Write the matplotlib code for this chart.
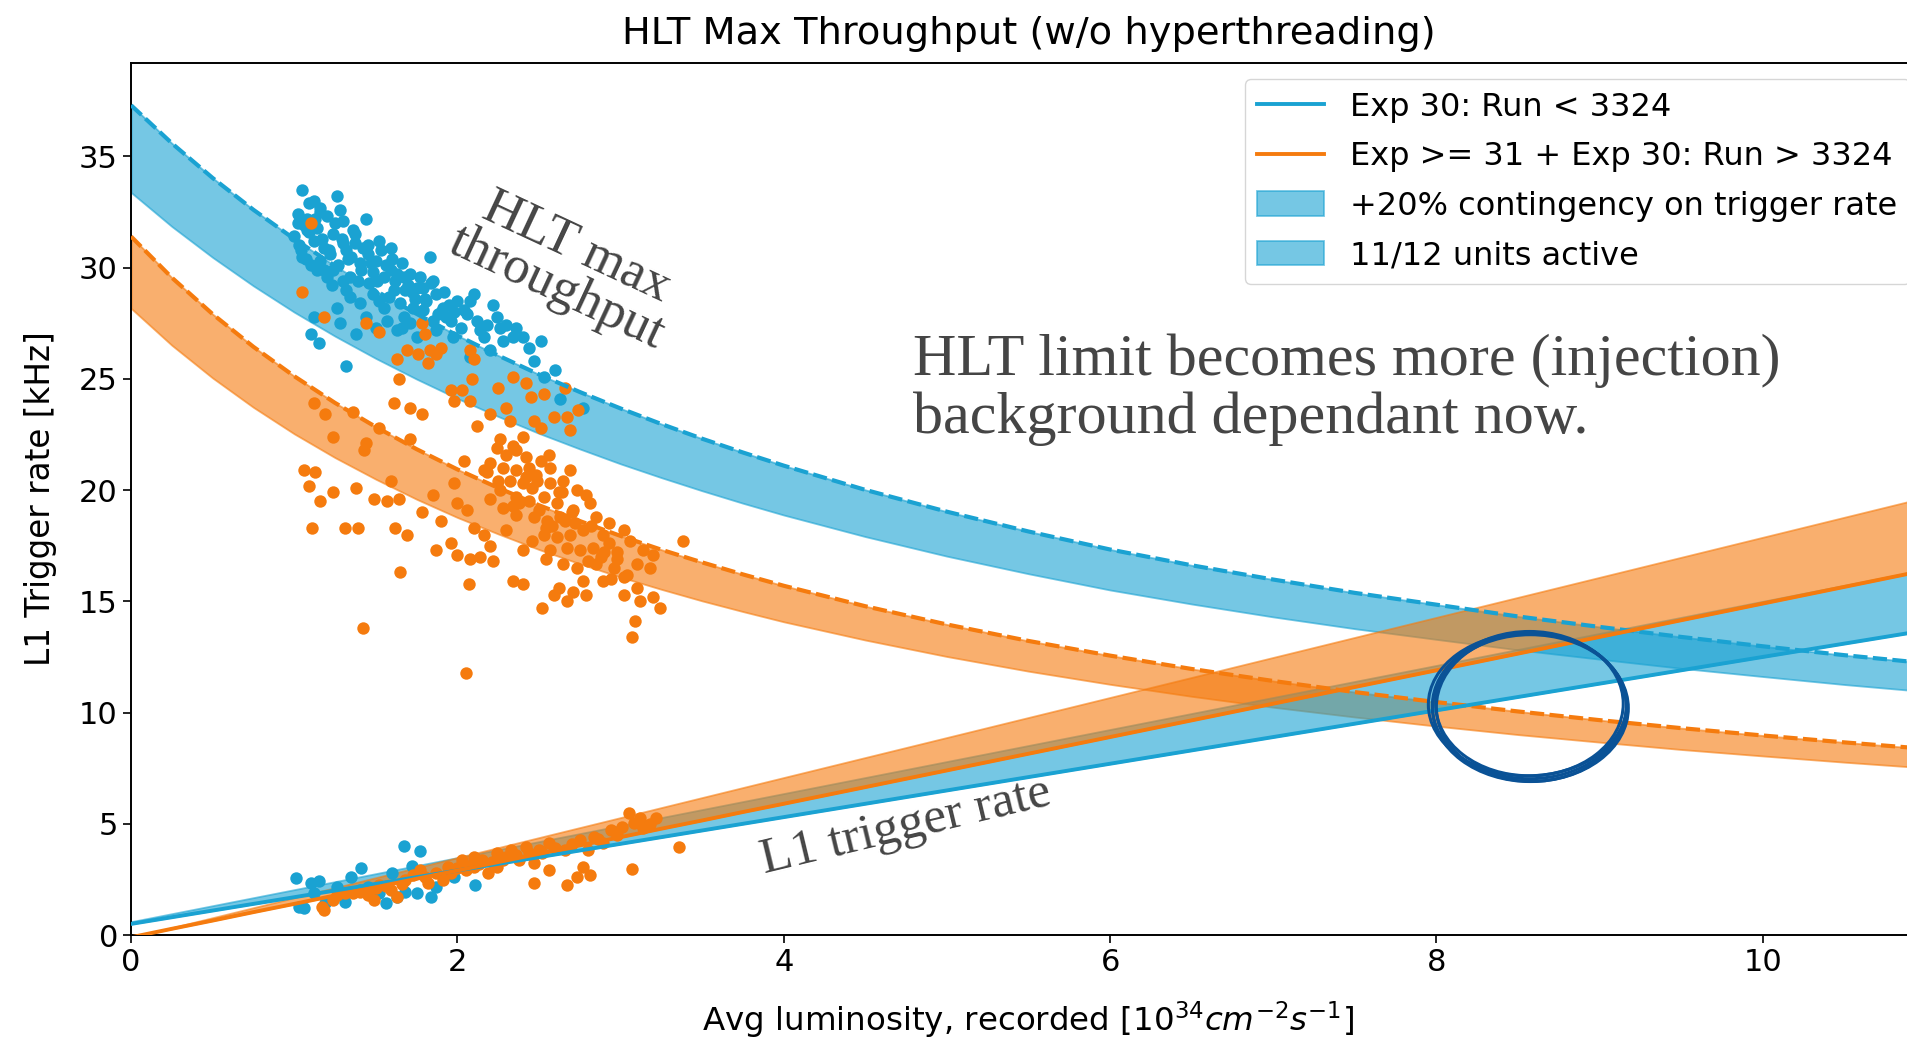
import matplotlib
matplotlib.use("Agg")
import matplotlib.pyplot as plt
from matplotlib.patches import Ellipse, Patch

# ---------------- data ----------------
lum = [0.0, 0.25, 0.5, 0.75, 1.0, 1.25, 1.5, 1.75, 2.0, 2.25, 2.5, 2.75, 3.0, 3.25,
       3.5, 3.75, 4.0, 4.5, 5.0, 5.5, 6.0, 6.5, 7.0, 7.5, 8.0, 8.5, 9.0, 9.5, 10.0,
       10.5, 11.0]

# HLT max throughput, Exp 30 Run < 3324 (blue): all units (dashed) and 11/12 units
hlt_blue_full = [37.30, 35.59, 34.03, 32.60, 31.29, 30.08, 28.96, 27.92, 26.95, 26.05,
                 25.20, 24.41, 23.67, 22.97, 22.31, 21.69, 21.10, 20.01, 19.03, 18.14,
                 17.33, 16.62, 15.98, 15.38, 14.85, 14.32, 13.85, 13.40, 12.98, 12.58,
                 12.22]
hlt_blue_part = [33.38, 31.85, 30.46, 29.18, 28.00, 26.92, 25.92, 24.99, 24.12, 23.31,
                 22.55, 21.85, 21.18, 20.56, 19.97, 19.41, 18.88, 17.91, 17.03, 16.24,
                 15.51, 14.88, 14.30, 13.77, 13.29, 12.82, 12.40, 11.99, 11.62, 11.26,
                 10.94]
# HLT max throughput, Exp >= 31 (orange)
hlt_orange_full = [31.40, 29.55, 27.91, 26.44, 25.12, 23.92, 22.84, 21.84, 20.93, 20.10,
                   19.32, 18.61, 17.94, 17.32, 16.75, 16.21, 15.70, 14.78, 13.96, 13.22,
                   12.56, 11.96, 11.42, 10.92, 10.47, 10.05, 9.66, 9.30, 8.97, 8.66, 8.37]
hlt_orange_part = [28.17, 26.51, 25.04, 23.72, 22.53, 21.46, 20.49, 19.59, 18.77, 18.03,
                   17.33, 16.69, 16.09, 15.54, 15.02, 14.54, 14.08, 13.26, 12.52, 11.86,
                   11.27, 10.73, 10.24, 9.80, 9.39, 9.01, 8.67, 8.34, 8.05, 7.77, 7.51]
# L1 trigger rate (solid) and +20% contingency
l1_blue = [0.50, 0.80, 1.10, 1.40, 1.70, 2.00, 2.30, 2.60, 2.90, 3.20, 3.50, 3.80, 4.10,
           4.40, 4.70, 5.00, 5.30, 5.90, 6.50, 7.10, 7.70, 8.30, 8.90, 9.50, 10.10, 10.70,
           11.30, 11.90, 12.50, 13.10, 13.70]
l1_blue_hi = [0.60, 0.96, 1.32, 1.68, 2.04, 2.40, 2.76, 3.12, 3.48, 3.84, 4.20, 4.56,
              4.92, 5.28, 5.64, 6.00, 6.36, 7.08, 7.80, 8.52, 9.24, 9.96, 10.68, 11.40,
              12.12, 12.84, 13.56, 14.28, 15.00, 15.72, 16.44]
l1_orange = [-0.10, 0.28, 0.65, 1.03, 1.40, 1.78, 2.15, 2.53, 2.90, 3.28, 3.65, 4.03,
             4.40, 4.78, 5.15, 5.53, 5.90, 6.65, 7.40, 8.15, 8.90, 9.65, 10.40, 11.15,
             11.90, 12.65, 13.40, 14.15, 14.90, 15.65, 16.40]
l1_orange_hi = [-0.12, 0.33, 0.78, 1.23, 1.68, 2.13, 2.58, 3.03, 3.48, 3.93, 4.38, 4.83,
                5.28, 5.73, 6.18, 6.63, 7.08, 7.98, 8.88, 9.78, 10.68, 11.58, 12.48, 13.38,
                14.28, 15.18, 16.08, 16.98, 17.88, 18.78, 19.68]

# measured HLT throughput points
hlt_pts_blue_x = [1.05, 1.09, 1.02, 1.26, 1.44, 1.14, 1.00, 1.24, 1.36, 1.04, 1.18, 1.32,
                  1.40, 1.24, 1.50, 1.59, 1.71, 1.83, 1.46, 1.61, 1.75, 1.87, 2.00, 2.08,
                  1.32, 1.26, 1.40, 1.55, 1.67, 1.79, 1.91, 2.04, 2.12, 2.24, 1.12, 1.28,
                  1.50, 1.63, 1.87, 1.97, 2.16, 2.28, 2.20, 2.51, 1.10, 1.15, 1.32, 1.38,
                  1.71, 2.08, 2.47, 2.53, 2.63, 2.77, 1.59, 1.67, 1.53, 1.20, 1.34, 1.08,
                  1.20, 1.02, 1.79, 1.93, 1.75, 1.44, 1.06, 1.12, 1.16, 1.22, 1.30, 1.35,
                  1.42, 1.48, 1.55, 1.62, 1.68, 1.74, 1.81, 1.90, 1.96, 2.02, 1.10, 1.16,
                  1.28, 1.37, 1.45, 1.52, 1.60, 1.66, 1.72, 1.84, 1.98, 2.14, 2.30, 2.40,
                  2.60, 1.05, 1.14, 1.30,
                  1.03, 1.07, 1.09, 1.13, 1.17, 1.21, 1.25, 1.29, 1.33, 1.37, 1.41, 1.45,
                  1.47, 1.51, 1.56, 1.58, 1.63, 1.65, 1.70, 1.73, 1.77, 1.80, 1.85, 1.88,
                  1.92, 1.95, 2.06, 2.10, 2.18, 2.22, 2.26, 2.34, 2.36, 2.44, 1.18, 1.23,
                  1.27, 1.34, 1.39, 1.48, 1.52, 1.57, 1.66, 1.85, 1.12, 1.16, 1.08, 1.30]
hlt_pts_blue_y = [33.5, 32.9, 32.4, 33.2, 32.2, 31.8, 31.4, 31.5, 31.7, 30.8, 30.9, 30.8,
                  30.2, 29.9, 30.3, 29.9, 29.7, 30.5, 29.3, 29.0, 29.1, 28.8, 28.5, 28.5,
                  29.0, 28.2, 28.4, 28.2, 27.8, 28.1, 28.2, 28.1, 27.6, 27.8, 27.8, 27.5,
                  27.3, 27.2, 27.2, 26.9, 26.9, 26.7, 26.3, 26.7, 27.0, 26.6, 25.6, 27.0,
                  27.5, 26.0, 25.8, 25.1, 24.1, 23.7, 30.9, 29.6, 30.8, 29.6, 29.6, 31.7,
                  32.3, 32.0, 29.1, 27.8, 26.9, 27.8, 31.9, 31.2, 30.3, 30.6, 31.1, 30.5,
                  30.9, 29.8, 29.6, 29.4, 29.0, 28.6, 28.5, 28.0, 27.6, 27.3, 30.1, 32.5,
                  32.6, 31.5, 30.6, 31.2, 30.4, 30.2, 28.9, 29.3, 28.0, 27.2, 27.4, 26.9,
                  25.4, 30.5, 29.9, 29.4,
                  31.0, 30.4, 31.6, 32.2, 31.3, 30.8, 32.0, 31.3, 30.4, 31.1, 29.9, 31.0,
                  30.2, 29.4, 30.1, 28.7, 29.7, 28.4, 29.2, 28.2, 29.6, 28.6, 29.4, 27.9,
                  28.9, 28.3, 27.9, 28.8, 27.4, 28.3, 27.3, 26.9, 27.3, 26.4, 29.9, 29.2,
                  30.1, 28.7, 29.4, 28.8, 28.5, 27.6, 27.3, 27.6, 33.0, 32.7, 32.2, 32.1]

hlt_pts_orange_x = [1.10, 1.05, 1.18, 1.44, 1.52, 1.78, 1.80, 1.63, 1.69, 1.76, 1.83, 1.87,
                    1.90, 1.82, 2.08, 2.10, 1.64, 1.96, 2.03, 1.98, 2.08, 2.09, 2.20, 2.25,
                    2.30, 2.34, 2.42, 2.45, 2.53, 2.47, 2.51, 2.59, 2.66, 2.67, 2.69, 2.74,
                    2.12, 2.32, 2.40, 1.12, 1.19, 1.24, 1.36, 1.44, 1.43, 1.52, 1.61, 1.71,
                    1.78, 1.71, 1.06, 1.13, 1.09, 1.16, 1.24, 1.38, 1.49, 1.57, 1.64, 1.11,
                    1.31, 1.39, 1.62, 1.69, 1.78, 1.85, 1.90, 1.98, 2.00, 2.06, 2.10, 2.16,
                    1.87, 1.96, 2.00, 2.08, 2.22, 2.14, 1.65, 2.07, 2.20, 1.42, 1.59, 2.04,
                    2.16, 2.25, 2.24, 2.30, 2.36, 2.42, 2.28, 2.36, 2.44, 2.51, 2.57, 2.32,
                    2.40, 2.49, 2.57, 2.65, 2.69, 2.73, 2.79, 2.36, 2.44, 2.53, 2.61, 2.28,
                    2.36, 2.47, 2.55, 2.63, 2.71, 2.85, 2.53, 2.61, 2.69, 2.77, 2.89, 3.02,
                    2.57, 2.67, 2.75, 2.83, 2.93, 3.06, 3.14, 3.20, 2.65, 2.73, 2.85, 2.96,
                    3.04, 3.10, 3.18, 3.38, 2.77, 2.89, 3.02, 2.59, 2.67, 2.79, 3.02, 3.12,
                    3.20, 3.24, 2.52, 3.09, 3.07, 2.34, 2.40, 2.81, 2.93, 2.05, 2.20, 2.26,
                    2.34, 2.48, 2.56, 2.62, 2.70, 2.82, 2.90, 2.98, 2.38, 2.46, 2.54, 2.66,
                    2.26, 2.34, 2.42, 2.50, 2.58, 2.64, 2.72, 2.46, 2.54, 2.80, 2.88, 2.94,
                    2.98, 3.10, 2.30, 2.20, 2.18, 2.40, 2.62, 2.71]
hlt_pts_orange_y = [32.0, 28.9, 27.8, 27.5, 27.1, 27.5, 27.0, 25.9, 26.3, 26.1, 26.3, 26.1,
                    26.4, 25.7, 26.3, 25.9, 25.0, 24.5, 24.5, 24.0, 24.0, 25.0, 23.4, 24.6,
                    23.7, 25.1, 24.8, 24.2, 24.3, 23.1, 22.8, 23.3, 24.6, 23.3, 22.7, 23.6,
                    22.9, 23.1, 22.4, 23.9, 23.4, 22.4, 23.5, 22.1, 21.8, 22.8, 23.9, 23.7,
                    23.4, 22.3, 20.9, 20.8, 20.2, 19.5, 19.9, 20.1, 19.6, 19.5, 19.6, 18.3,
                    18.3, 18.3, 18.3, 18.0, 19.0, 19.8, 18.6, 20.3, 19.4, 19.1, 18.3, 18.0,
                    17.3, 17.6, 17.1, 16.9, 16.8, 17.0, 16.3, 15.8, 17.5, 13.8, 20.4, 21.3,
                    20.9, 20.4, 21.9, 21.6, 21.8, 21.5, 21.0, 20.9, 21.0, 21.3, 21.0, 20.4,
                    20.3, 20.4, 20.3, 20.4, 20.9, 20.0, 19.8, 19.7, 19.5, 19.7, 19.4, 19.2,
                    18.9, 18.8, 18.6, 18.8, 19.1, 18.8, 18.0, 17.9, 18.0, 18.2, 18.0, 18.2,
                    17.3, 17.4, 17.3, 17.4, 17.6, 17.7, 17.3, 17.1, 16.7, 16.5, 16.7, 16.5,
                    16.2, 16.7, 16.5, 17.7, 15.9, 15.9, 16.1, 15.3, 15.0, 15.3, 15.3, 15.0,
                    15.2, 14.7, 14.7, 14.1, 13.4, 15.9, 15.8, 19.4, 18.5, 11.8, 21.2, 22.3,
                    22.0, 20.7, 21.6, 19.9, 19.0, 18.4, 17.2, 16.9, 19.4, 20.1, 18.3, 18.6,
                    20.0, 19.3, 20.6, 19.1, 18.4, 19.9, 18.5, 17.7, 16.9, 16.8, 17.0, 16.0,
                    17.2, 15.6, 18.2, 19.6, 20.8, 17.3, 15.6, 15.4]

# measured L1 trigger rate points
l1_pts_blue_x = [1.01, 1.10, 1.15, 1.26, 1.35, 1.41, 1.67, 1.77, 1.72, 1.60, 1.03, 1.06,
                 1.19, 1.31, 1.56, 1.63, 1.75, 1.84, 1.87, 1.68, 1.52, 1.45, 1.98, 2.11,
                 1.12, 1.40]
l1_pts_blue_y = [2.55, 2.32, 2.44, 2.17, 2.62, 3.00, 4.00, 3.79, 3.10, 2.77, 1.27, 1.20,
                 1.42, 1.50, 1.42, 1.72, 1.87, 1.72, 2.17, 1.95, 1.87, 2.17, 2.62, 2.25,
                 1.87, 2.02]
l1_pts_orange_x = [1.18, 1.17, 1.24, 1.31, 1.40, 1.45, 1.52, 1.63, 1.68, 1.73, 1.77, 1.87,
                   1.94, 2.03, 2.05, 2.10, 2.15, 2.19, 2.24, 2.28, 2.33, 2.38, 2.42, 2.47,
                   2.47, 2.52, 2.56, 2.56, 2.66, 2.67, 2.73, 2.77, 2.81, 2.75, 2.84, 2.94,
                   3.01, 3.05, 3.08, 3.12, 3.22, 3.07, 3.36, 2.89, 2.80, 2.24, 2.10, 1.91,
                   1.82, 1.59, 1.49,
                   1.36, 1.56, 1.66, 1.80, 1.96, 2.00, 2.07, 2.13, 2.21, 2.30, 2.36, 2.44,
                   2.50, 2.60, 2.70, 2.86, 2.98, 3.14, 3.18, 1.26, 1.46, 1.50]
l1_pts_orange_y = [1.12, 1.27, 1.57, 1.87, 1.95, 1.80, 2.25, 1.72, 2.47, 2.70, 2.92, 2.77,
                   3.07, 3.37, 2.92, 3.52, 3.37, 2.77, 3.67, 3.37, 3.82, 3.37, 3.97, 3.22,
                   2.32, 3.67, 4.12, 2.92, 3.82, 2.25, 2.62, 3.07, 2.70, 4.27, 4.42, 4.72,
                   4.87, 5.47, 5.02, 5.24, 5.24, 2.95, 3.94, 4.12, 3.82, 3.07, 3.07, 2.47,
                   2.32, 2.02, 1.57,
                   1.90, 2.20, 2.30, 2.60, 2.80, 3.00, 3.10, 3.20, 3.30, 3.50, 3.60, 3.70,
                   3.80, 3.90, 4.10, 4.30, 4.50, 4.80, 5.00, 1.80, 2.00, 2.10]

x_ticks = [0, 2, 4, 6, 8, 10]
y_ticks = [0, 5, 10, 15, 20, 25, 30, 35]

BLUE = "#1aa2d2"
ORANGE = "#f57b0e"
TEXT_GREY = "#454545"
CIRCLE = "#0a5296"

# ---------------- figure ----------------
plt.rcParams["font.family"] = ["DejaVu Sans"]
plt.rcParams["font.size"] = 22
fig = plt.figure(figsize=(19.08, 10.41), dpi=100)
ax = fig.add_axes([0.0687, 0.1018, 0.9407, 0.8377])

# bands
ax.fill_between(lum, hlt_blue_part, hlt_blue_full, color=BLUE, alpha=0.6, lw=1.3, zorder=1)
ax.fill_between(lum, hlt_orange_part, hlt_orange_full, color=ORANGE, alpha=0.6, lw=1.3, zorder=1)
ax.fill_between(lum, l1_blue, l1_blue_hi, color=BLUE, alpha=0.6, lw=1.3, zorder=1)
ax.fill_between(lum, l1_orange, l1_orange_hi, color=ORANGE, alpha=0.6, lw=1.3, zorder=1)

# scatter points
ms = 80
ax.scatter(hlt_pts_blue_x, hlt_pts_blue_y, s=ms, color=BLUE, lw=0, zorder=2)
ax.scatter(hlt_pts_orange_x, hlt_pts_orange_y, s=ms, color=ORANGE, lw=0, zorder=2)
ax.scatter(l1_pts_blue_x, l1_pts_blue_y, s=ms, color=BLUE, lw=0, zorder=2)
ax.scatter(l1_pts_orange_x, l1_pts_orange_y, s=ms, color=ORANGE, lw=0, zorder=2)

# lines
ax.plot(lum, hlt_blue_full, color=BLUE, lw=3.0, ls=(0, (3.4, 1.3)), zorder=3)
ax.plot(lum, hlt_orange_full, color=ORANGE, lw=3.0, ls=(0, (3.4, 1.3)), zorder=3)
ax.plot(lum, l1_blue, color=BLUE, lw=2.8, zorder=3, label="Exp 30: Run < 3324")
ax.plot(lum, l1_orange, color=ORANGE, lw=2.8, zorder=3, label="Exp >= 31 + Exp 30: Run > 3324")

# legend (band proxies)
handles, labels = ax.get_legend_handles_labels()
handles += [Patch(facecolor=BLUE, alpha=0.6, edgecolor=BLUE, lw=1.3),
            Patch(facecolor=BLUE, alpha=0.6, edgecolor=BLUE, lw=1.3)]
labels += ["+20% contingency on trigger rate", "11/12 units active"]
leg = ax.legend(handles, labels, loc="upper right", fontsize=23, framealpha=0.8,
                labelspacing=0.58, handlelength=2.1, handleheight=0.8)
leg.set_zorder(6)

ax.set_xlim(0, 11)
ax.set_ylim(0, 39.2)
ax.set_xticks(x_ticks)
ax.set_yticks(y_ticks)
ax.tick_params(length=6, width=1.2, labelsize=22)
for s in ["left", "bottom", "top"]:
    ax.spines[s].set_linewidth(1.4)
ax.spines["right"].set_visible(False)

ax.set_title("HLT Max Throughput (w/o hyperthreading)", fontsize=27.6, pad=14)
ax.set_xlabel(r"Avg luminosity, recorded [$10^{34} cm^{-2} s^{-1}$]", fontsize=23.4,
              labelpad=16)
ax.set_ylabel("L1 Trigger rate [kHz]", fontsize=23.5, labelpad=16)

# overlay annotations
serif = ["Liberation Serif", "DejaVu Serif"]
ax.text(2.67, 30.0, "HLT max\nthroughput", family=serif, fontsize=38, color=TEXT_GREY,
        rotation=-25, ha="center", va="center", multialignment="center",
        linespacing=0.95, zorder=5)
ax.text(4.75, 4.85, "L1 trigger rate", family=serif, fontsize=37, color=TEXT_GREY,
        rotation=13.5, ha="center", va="center", zorder=5)
ax.text(4.79, 24.5, "HLT limit becomes more (injection)\nbackground dependant now.",
        family=serif, fontsize=43.3, color=TEXT_GREY, ha="left", va="center",
        linespacing=1.09, zorder=5)

# hand drawn ellipse
for dx, dy, dw, dh in [(0, 0, 0, 0), (0.012, -0.06, -0.025, 0.12), (-0.012, 0.06, 0.025, -0.14),
                       (0.0, 0.1, -0.04, -0.06), (0.006, -0.1, 0.01, 0.05)]:
    ax.add_patch(Ellipse((8.57 + dx, 10.3 + dy), 1.19 + dw, 6.55 + dh, fill=False,
                         edgecolor=CIRCLE, lw=2.2, zorder=5))

fig.savefig("out.png", dpi=100)
